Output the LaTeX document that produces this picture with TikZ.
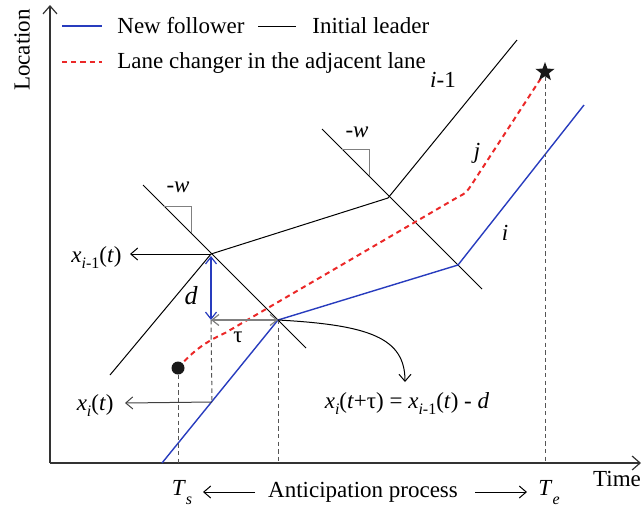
\documentclass[tikz,border=0pt]{standalone}
\usepackage{fontspec}
\setmainfont{Liberation Serif}
\usetikzlibrary{arrows.meta,shapes.geometric}
\definecolor{fblue}{RGB}{40,60,190}
\definecolor{lred}{RGB}{235,40,40}
\definecolor{dgray}{RGB}{85,85,85}
\newcommand{\lowsub}[1]{\raisebox{-0.6ex}{\fontsize{8pt}{8pt}\selectfont #1}}
\newcommand{\deepsub}[1]{\raisebox{-0.9ex}{\fontsize{8pt}{8pt}\selectfont\itshape #1}}
\tikzset{
  lbl/.style={font=\fontsize{11.5pt}{13pt}\selectfont, inner sep=1pt},
  leader/.style={black, line width=0.5pt},
  follower/.style={fblue, line width=0.7pt},
  changer/.style={lred, line width=1pt, dash pattern=on 2.6pt off 2pt},
  guide/.style={dgray, line width=0.5pt, dash pattern=on 2.2pt off 1.6pt},
  axisline/.style={black!80, line width=0.6pt, -{Straight Barb[length=4pt,width=7pt]}},
  pointer/.style={line width=0.5pt, -{Straight Barb[length=3.5pt,width=6pt]}},
  twoway/.style={line width=0.6pt, {Straight Barb[length=3.5pt,width=5.5pt]}-{Straight Barb[length=3.5pt,width=5.5pt]}},
  corner/.style={gray, line width=0.5pt},
}
\begin{document}
\begin{tikzpicture}[x=0.5pt,y=-0.5pt]
\useasboundingbox (0,0) rectangle (642,510);
% axes
\coordinate (O) at (50,463);
\coordinate (Ytop) at (50,5);
\coordinate (Xend) at (641,463);
\draw[axisline] (O) -- (Ytop);
\draw[axisline] (O) -- (Xend);
\node[lbl, rotate=90] (loc) at (22,50) {Location};
\node[lbl, anchor=base] (time) at (617,486) {Time};
% legend
\coordinate (lg1a) at (62,26); \coordinate (lg1b) at (102,26);
\coordinate (lg2a) at (258,26); \coordinate (lg2b) at (296,26);
\coordinate (lg3a) at (62,62); \coordinate (lg3b) at (102,62);
\draw[follower] (lg1a) -- (lg1b);
\node[lbl, anchor=base west] (t1) at (115,33) {New follower};
\draw[leader] (lg2a) -- (lg2b);
\node[lbl, anchor=base west] (t2) at (310,33) {Initial leader};
\draw[changer] (lg3a) -- (lg3b);
\node[lbl, anchor=base west] (t3) at (115,68) {Lane changer in the adjacent lane};
% leader trajectory
\coordinate (L0) at (110,375);
\coordinate (L1) at (211,254);
\coordinate (L2) at (388,198);
\coordinate (L3) at (517,40);
\draw[leader] (L0) -- (L1) -- (L2) -- (L3);
% shock waves
\coordinate (W1a) at (143,185); \coordinate (W1b) at (306,348);
\coordinate (W2a) at (322,129); \coordinate (W2b) at (482,289);
\draw[leader] (W1a) -- (W1b);
\draw[leader] (W2a) -- (W2b);
\coordinate (C1a) at (164,206); \coordinate (C1b) at (191,206); \coordinate (C1c) at (191,233);
\draw[corner] (C1a) -- (C1b) -- (C1c);
\coordinate (C2a) at (342,149); \coordinate (C2b) at (369,149); \coordinate (C2c) at (369,176);
\draw[corner] (C2a) -- (C2b) -- (C2c);
\node[lbl] (w1) at (178,187) {-\textit{w}};
\node[lbl] (w2) at (357,132) {-\textit{w}};
% follower
\coordinate (F0) at (162,463);
\coordinate (F1) at (278,320);
\coordinate (F2) at (458,265);
\coordinate (F3) at (584,105);
\draw[follower] (F0) -- (F1) -- (F2) -- (F3);
% lane changer
\coordinate (J0) at (178,368);
\coordinate (J1) at (545,72);
\draw[changer] (J0) .. controls (192,352) and (205,342) .. (225,333) -- (458,197) .. controls (466,193) .. (472,184) -- (J1);
\node[circle, fill=black!90, minimum size=6.5pt, inner sep=0pt] (dot) at (J0) {};
\node[star, star points=5, star point ratio=2.4, fill=black!90, minimum size=10pt, inner sep=0pt] (star) at (J1) {};
% trajectory labels
\node[lbl] (lab1) at (443,80) {\textit{i}-1};
\node[lbl] (labj) at (477,153) {\textit{j}};
\node[lbl] (labi) at (505,233) {\textit{i}};
% d and tau
\coordinate (D) at (211,320);
\coordinate (Fx) at (212,402);
\coordinate (L1d) at (211,256);
\draw[fblue, twoway] (L1d) -- (D);
\draw[gray, twoway] (D) -- (F1);
\node[lbl, font=\fontsize{13pt}{14pt}\selectfont\itshape] (dl) at (191,296) {d};
\node[lbl] (tl) at (238,337) {τ};
% guides
\coordinate (Ts) at (178,463);
\coordinate (Tm) at (278,463);
\coordinate (Te) at (545,463);
\draw[guide] (dot) -- (Ts);
\draw[guide] (D) -- (Fx);
\draw[guide] (F1) -- (Tm);
\draw[guide] (star) -- (Te);
% position arrows
\coordinate (ax1) at (130,254);
\coordinate (ax2) at (125,403);
\draw[pointer] (L1) -- (ax1);
\draw[pointer, black!75] (Fx) -- (ax2);
\node[lbl, anchor=base east] (lx1) at (124,262) {\textit{x}\lowsub{\textit{i}-1}(\textit{t})};
\node[lbl, anchor=base east] (lx2) at (116,410) {\textit{x}\lowsub{\textit{i}}(\textit{t})};
% formula and curved arrow
\coordinate (cA) at (405,382);
\draw[pointer] (F1) .. controls (370,325) and (405,338) .. (cA);
\node[lbl, anchor=base] (eq) at (407,408) {\textit{x}\lowsub{\textit{i}}(\textit{t}+τ) = \textit{x}\lowsub{\textit{i}-1}(\textit{t}) - \textit{d}};
% bottom labels
\node[lbl, anchor=base] (ts) at (182,495) {\textit{T}\deepsub{s}};
\node[lbl, anchor=base] (ap) at (363,497) {Anticipation process};
\node[lbl, anchor=base] (te) at (549,495) {\textit{T}\deepsub{e}};
\coordinate (b1s) at (255,492); \coordinate (b1e) at (203,492);
\coordinate (b2s) at (475,492); \coordinate (b2e) at (527,492);
\draw[pointer] (b1s) -- (b1e);
\draw[pointer] (b2s) -- (b2e);
\end{tikzpicture}
\end{document}
